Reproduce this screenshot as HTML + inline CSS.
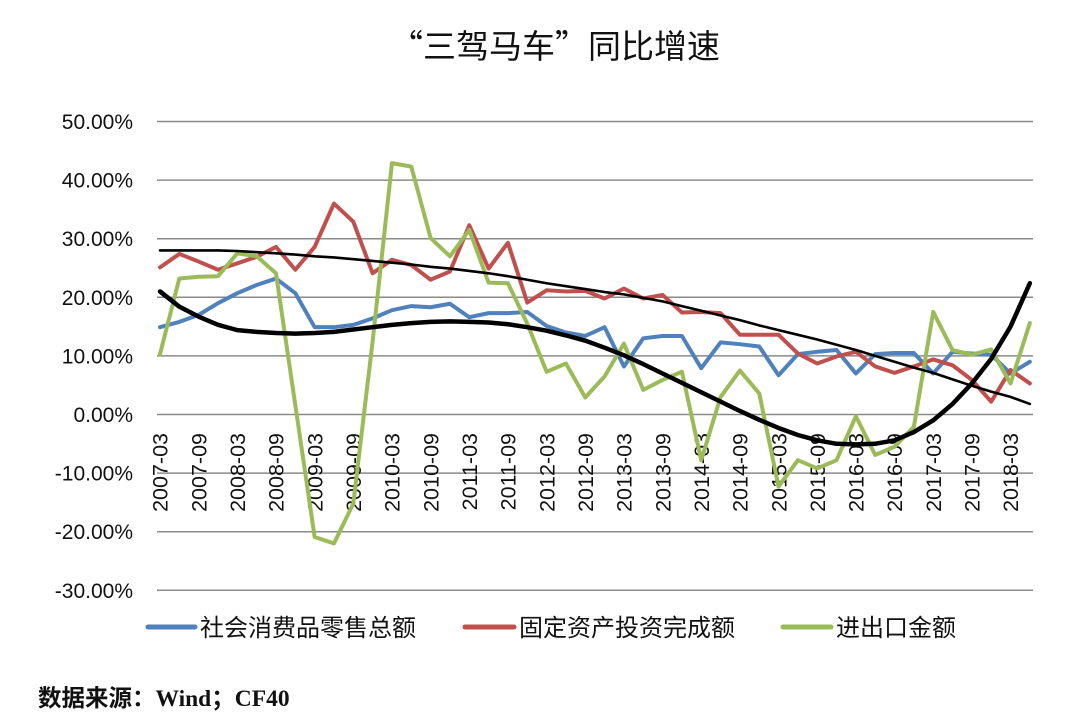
<!DOCTYPE html>
<html><head><meta charset="utf-8"><style>
html,body{margin:0;padding:0;background:#fff;}
svg{display:block;}
</style></head><body>
<svg width="1080" height="725" viewBox="0 0 1080 725" xmlns="http://www.w3.org/2000/svg">
<rect width="1080" height="725" fill="#fff"/>
<text x="390" y="58" textLength="330" lengthAdjust="spacing" font-family="'Noto Sans CJK SC','Liberation Sans',sans-serif" font-size="33" fill="#111">“三驾马车”同比增速</text>
<g stroke="#8a8a8a" stroke-width="1.5">
<line x1="157" y1="121.5" x2="1033" y2="121.5"/>
<line x1="157" y1="180.1" x2="1033" y2="180.1"/>
<line x1="157" y1="238.7" x2="1033" y2="238.7"/>
<line x1="157" y1="297.3" x2="1033" y2="297.3"/>
<line x1="157" y1="355.9" x2="1033" y2="355.9"/>
<line x1="157" y1="414.5" x2="1033" y2="414.5"/>
<line x1="157" y1="473.1" x2="1033" y2="473.1"/>
<line x1="157" y1="531.7" x2="1033" y2="531.7"/>
<line x1="157" y1="590.3" x2="1033" y2="590.3"/>
</g>
<g font-family="'Liberation Sans',sans-serif" font-size="21" fill="#111" text-anchor="end">
<text x="133" y="129">50.00%</text>
<text x="133" y="187.6">40.00%</text>
<text x="133" y="246.2">30.00%</text>
<text x="133" y="304.8">20.00%</text>
<text x="133" y="363.4">10.00%</text>
<text x="133" y="422">0.00%</text>
<text x="133" y="480.6">-10.00%</text>
<text x="133" y="539.2">-20.00%</text>
<text x="133" y="597.8">-30.00%</text>
</g>
<g font-family="'Liberation Sans',sans-serif" font-size="21.5" fill="#111" text-anchor="end">
<text transform="translate(167.7,433) rotate(-90)">2007-03</text>
<text transform="translate(206.4,433) rotate(-90)">2007-09</text>
<text transform="translate(245.0,433) rotate(-90)">2008-03</text>
<text transform="translate(283.7,433) rotate(-90)">2008-09</text>
<text transform="translate(322.3,433) rotate(-90)">2009-03</text>
<text transform="translate(361.0,433) rotate(-90)">2009-09</text>
<text transform="translate(399.7,433) rotate(-90)">2010-03</text>
<text transform="translate(438.3,433) rotate(-90)">2010-09</text>
<text transform="translate(477.0,433) rotate(-90)">2011-03</text>
<text transform="translate(515.6,433) rotate(-90)">2011-09</text>
<text transform="translate(554.3,433) rotate(-90)">2012-03</text>
<text transform="translate(593.0,433) rotate(-90)">2012-09</text>
<text transform="translate(631.6,433) rotate(-90)">2013-03</text>
<text transform="translate(670.3,433) rotate(-90)">2013-09</text>
<text transform="translate(708.9,433) rotate(-90)">2014-03</text>
<text transform="translate(747.6,433) rotate(-90)">2014-09</text>
<text transform="translate(786.3,433) rotate(-90)">2015-03</text>
<text transform="translate(824.9,433) rotate(-90)">2015-09</text>
<text transform="translate(863.6,433) rotate(-90)">2016-03</text>
<text transform="translate(902.2,433) rotate(-90)">2016-09</text>
<text transform="translate(940.9,433) rotate(-90)">2017-03</text>
<text transform="translate(979.6,433) rotate(-90)">2017-09</text>
<text transform="translate(1018.2,433) rotate(-90)">2018-03</text>
</g>
<g transform="translate(160,414.5) scale(19.33,-5.86)" fill="none" stroke-linejoin="round" stroke-linecap="round">
<polyline vector-effect="non-scaling-stroke" stroke="#4F81BD" stroke-width="4" points="0,14.9 1,15.8 2,17.0 3,19.0 4,20.7 5,22.1 6,23.2 7,20.7 8,14.9 9,14.9 10,15.3 11,16.4 12,17.8 13,18.5 14,18.3 15,18.9 16,16.6 17,17.3 18,17.3 19,17.5 20,15.1 21,14.0 22,13.4 23,14.9 24,8.2 25,13.0 26,13.4 27,13.4 28,7.9 29,12.3 30,12.0 31,11.6 32,6.7 33,10.3 34,10.7 35,11.0 36,7.0 37,10.3 38,10.5 39,10.5 40,7.0 41,10.7 42,10.4 43,10.2 44,7.0 45,9.0"/>
<polyline vector-effect="non-scaling-stroke" stroke="#C0504D" stroke-width="4" points="0,25.1 1,27.4 2,26.1 3,24.7 4,25.8 5,26.9 6,28.6 7,24.7 8,28.6 9,36.0 10,32.9 11,24.1 12,26.4 13,25.5 14,23.0 15,24.4 16,32.3 17,24.9 18,29.3 19,19.1 20,21.2 21,21.0 22,21.1 23,19.8 24,21.5 25,19.8 26,20.4 27,17.4 28,17.5 29,17.3 30,13.6 31,13.6 32,13.6 33,10.4 34,8.7 35,9.9 36,10.7 37,8.2 38,7.1 39,8.2 40,9.4 41,8.4 42,5.9 43,2.2 44,7.6 45,5.3"/>
<polyline vector-effect="non-scaling-stroke" stroke="#9BBB59" stroke-width="4" points="0,10.3 1,23.2 2,23.5 3,23.6 4,27.5 5,27.0 6,24.1 7,1.6 8,-20.9 9,-22.0 10,-15.2 11,12.5 12,42.9 13,42.3 14,30.1 15,27.0 16,31.5 17,22.5 18,22.4 19,15.5 20,7.3 21,8.7 22,2.9 23,6.5 24,12.1 25,4.2 26,5.9 27,7.3 28,-7.8 29,3.0 30,7.5 31,3.6 32,-12.3 33,-7.8 34,-9.2 35,-7.8 36,-0.3 37,-6.9 38,-5.5 39,-2.1 40,17.5 41,11.0 42,10.2 43,11.1 44,5.3 45,15.6"/>
<polyline vector-effect="non-scaling-stroke" stroke="#000" stroke-width="2.6" points="0,28.0 1,28.0 2,28.0 3,28.0 4,27.9 5,27.7 6,27.5 7,27.3 8,27.0 9,26.8 10,26.5 11,26.2 12,25.9 13,25.6 14,25.2 15,24.9 16,24.5 17,24.1 18,23.6 19,23.0 20,22.4 21,21.9 22,21.4 23,20.9 24,20.5 25,19.9 26,19.3 27,18.5 28,17.7 29,16.9 30,16.1 31,15.2 32,14.4 33,13.6 34,12.8 35,11.9 36,11.0 37,10.0 38,9.0 39,8.0 40,7.1 41,6.0 42,4.9 43,3.9 44,3.0 45,1.8"/>
<polyline vector-effect="non-scaling-stroke" stroke="#000" stroke-width="4.5" points="0,21.0 1,18.4 2,16.7 3,15.3 4,14.4 5,14.1 6,13.9 7,13.8 8,13.9 9,14.1 10,14.5 11,14.9 12,15.3 13,15.6 14,15.8 15,15.9 16,15.8 17,15.7 18,15.4 19,14.9 20,14.3 21,13.5 22,12.6 23,11.4 24,10.1 25,8.6 26,7.0 27,5.4 28,3.8 29,2.2 30,0.6 31,-0.9 32,-2.3 33,-3.5 34,-4.4 35,-5.0 36,-5.1 37,-5.0 38,-4.4 39,-3.0 40,-1.0 41,1.8 42,5.3 43,9.5 44,15.0 45,22.4"/>
</g>
<g stroke-width="5" stroke-linecap="round">
<line x1="148" y1="627" x2="195" y2="627" stroke="#4F81BD"/>
<line x1="465" y1="627" x2="514" y2="627" stroke="#C0504D"/>
<line x1="783" y1="627" x2="831" y2="627" stroke="#9BBB59"/>
</g>
<g font-family="'Liberation Sans','Noto Sans CJK SC',sans-serif" font-size="24" fill="#111">
<text x="200" y="636">社会消费品零售总额</text>
<text x="519" y="636">固定资产投资完成额</text>
<text x="836" y="636">进出口金额</text>
</g>
<text x="38" y="706" font-family="'Liberation Sans','Noto Sans CJK SC',sans-serif" font-size="23.5" font-weight="bold" fill="#111">数据来源：<tspan font-family="'Liberation Serif',serif">Wind</tspan>；<tspan font-family="'Liberation Serif',serif">CF40</tspan></text>
</svg>
</body></html>
